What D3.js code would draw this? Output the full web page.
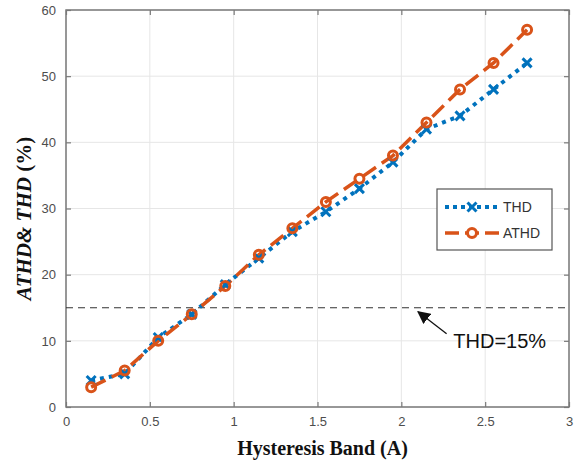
<!DOCTYPE html>
<html>
<head>
<meta charset="utf-8">
<script src="https://cdn.jsdelivr.net/npm/d3@7"></script>
<style>
  body { margin: 0; background: #fff; }
  .tick text { font-family: Arial, "Liberation Sans", sans-serif; font-size: 13px; fill: #4d4d4d; }
</style>
</head>
<body>
<div id="chart"></div>
<script>
// data
var band = [0.15, 0.35, 0.55, 0.75, 0.95, 1.15, 1.35, 1.55, 1.75, 1.95, 2.15, 2.35, 2.55, 2.75];
var thd  = [4, 5, 10.5, 14, 18.5, 22.5, 26.5, 29.5, 33, 37, 42, 44, 48, 52];
var athd = [3, 5.5, 10, 14, 18.3, 23, 27, 31, 34.5, 38, 43, 48, 52, 57];
var xTicks = [0, 0.5, 1, 1.5, 2, 2.5, 3];
var yTicks = [0, 10, 20, 30, 40, 50, 60];
var limit = 15;

var W = 577, H = 466;
var margin = {top: 10, right: 8, bottom: 59, left: 66},
    width = W - margin.left - margin.right,
    height = H - margin.top - margin.bottom;

var svg = d3.select("#chart").append("svg")
    .attr("width", W).attr("height", H)
  .append("g")
    .attr("transform", "translate(" + margin.left + "," + margin.top + ")");

var x = d3.scaleLinear().domain([0, 3]).range([0, width]);
var y = d3.scaleLinear().domain([0, 60]).range([height, 0]);

// grid
svg.append("g").selectAll("line").data(xTicks).enter().append("line")
  .attr("x1", d => x(d)).attr("x2", d => x(d)).attr("y1", 0).attr("y2", height)
  .attr("stroke", "#e6e6e6").attr("stroke-width", 1);
svg.append("g").selectAll("line").data(yTicks).enter().append("line")
  .attr("y1", d => y(d)).attr("y2", d => y(d)).attr("x1", 0).attr("x2", width)
  .attr("stroke", "#e6e6e6").attr("stroke-width", 1);

// axes (ticks inside, matlab style)
var axCol = "#7a7a7a";
function styleAxis(g) {
  g.select(".domain").remove();
  g.selectAll(".tick line").attr("stroke", axCol).attr("stroke-width", 1.2);
}
svg.append("g").attr("transform", "translate(0," + height + ")")
  .call(d3.axisBottom(x).tickValues(xTicks).tickFormat(d3.format("")).tickSize(-5).tickPadding(10))
  .call(styleAxis);
svg.append("g")
  .call(d3.axisTop(x).tickValues(xTicks).tickFormat("").tickSize(-5))
  .call(styleAxis);
svg.append("g")
  .call(d3.axisLeft(y).tickValues(yTicks).tickSize(-5).tickPadding(10))
  .call(styleAxis);
svg.append("g").attr("transform", "translate(" + width + ",0)")
  .call(d3.axisRight(y).tickValues(yTicks).tickFormat("").tickSize(-5))
  .call(styleAxis);
svg.append("rect").attr("width", width).attr("height", height)
  .attr("fill", "none").attr("stroke", axCol).attr("stroke-width", 1.5);

// threshold line
svg.append("line")
  .attr("x1", 0).attr("x2", width).attr("y1", y(limit)).attr("y2", y(limit))
  .attr("stroke", "#333").attr("stroke-width", 1.2).attr("stroke-dasharray", "7,5");

var blue = "#0072BD", orange = "#D95319";
var line = d3.line().x(d => x(d[0])).y(d => y(d[1]));
var thdPts = band.map((b, i) => [b, thd[i]]);
var athdPts = band.map((b, i) => [b, athd[i]]);

svg.append("path").datum(thdPts).attr("d", line)
  .attr("fill", "none").attr("stroke", blue).attr("stroke-width", 4)
  .attr("stroke-dasharray", "4,5");
svg.append("path").datum(athdPts).attr("d", line)
  .attr("fill", "none").attr("stroke", orange).attr("stroke-width", 3.5)
  .attr("stroke-dasharray", "16,7");

// markers
var cross = function(s) { return "M" + (-s) + "," + (-s) + "L" + s + "," + s + "M" + (-s) + "," + s + "L" + s + "," + (-s); };
svg.append("g").selectAll("path").data(thdPts).enter().append("path")
  .attr("transform", d => "translate(" + x(d[0]) + "," + y(d[1]) + ")")
  .attr("d", cross(4.5)).attr("stroke", blue).attr("stroke-width", 3).attr("fill", "none");
svg.append("g").selectAll("circle").data(athdPts).enter().append("circle")
  .attr("cx", d => x(d[0])).attr("cy", d => y(d[1])).attr("r", 4.5)
  .attr("fill", "none").attr("stroke", orange).attr("stroke-width", 3);

// legend
var lg = svg.append("g").attr("transform", "translate(" + (437 - margin.left) + "," + (189 - margin.top) + ")");
lg.append("rect").attr("width", 115).attr("height", 61)
  .attr("fill", "#fff").attr("stroke", "#555").attr("stroke-width", 1.2);
var items = [
  {name: "THD", color: blue, w: 4, mark: "x"},
  {name: "ATHD", color: orange, w: 3.5, mark: "o"}
];
items.forEach(function(it, i) {
  var cy = 18 + i * 26;
  lg.append("line").attr("x1", 8).attr("x2", 62).attr("y1", cy).attr("y2", cy)
    .attr("stroke", it.color).attr("stroke-width", it.w).attr("stroke-dasharray", it.mark == "x" ? "4,4" : "14,6");
  if (it.mark == "x")
    lg.append("path").attr("transform", "translate(35," + cy + ")").attr("d", cross(4.5))
      .attr("stroke", it.color).attr("stroke-width", 3);
  else
    lg.append("circle").attr("cx", 35).attr("cy", cy).attr("r", 4.5)
      .attr("fill", "#fff").attr("stroke", it.color).attr("stroke-width", 3);
  lg.append("text").attr("x", 66).attr("y", cy).attr("dy", "0.35em")
    .style("font-family", "Arial, 'Liberation Sans', sans-serif").style("font-size", "14px")
    .attr("fill", "#333").text(it.name);
});

// annotation
svg.append("defs").append("marker").attr("id", "arr")
  .attr("viewBox", "0 0 10 10").attr("refX", 9).attr("refY", 5)
  .attr("markerWidth", 10).attr("markerHeight", 10).attr("orient", "auto")
  .append("path").attr("d", "M0,0L10,5L0,10z").attr("fill", "#111");
svg.append("line")
  .attr("x1", x(2.27)).attr("y1", y(limit) + 26)
  .attr("x2", x(2.1)).attr("y2", y(limit) + 4)
  .attr("stroke", "#111").attr("stroke-width", 1.3).attr("marker-end", "url(#arr)");
svg.append("text").attr("x", x(2.31)).attr("y", y(limit) + 40)
  .style("font-family", "Arial, 'Liberation Sans', sans-serif").style("font-size", "20px")
  .attr("fill", "#111").text("THD=" + limit + "%");

// axis labels
svg.append("text").attr("x", width / 2 + 5).attr("y", height + 48)
  .attr("text-anchor", "middle")
  .style("font-family", "'Liberation Serif', 'Times New Roman', serif").style("font-size", "20px")
  .style("font-weight", "bold").attr("fill", "#111").text("Hysteresis Band (A)");
var yl = svg.append("text").attr("transform", "translate(" + (-35) + "," + (height / 2 + 10) + ") rotate(-90)")
  .attr("text-anchor", "middle")
  .style("font-family", "'Liberation Serif', 'Times New Roman', serif").style("font-size", "21px")
  .style("font-weight", "bold").attr("fill", "#111");
yl.append("tspan").style("font-style", "italic").text("ATHD& THD ");
yl.append("tspan").text("(%)");
</script>
</body>
</html>
